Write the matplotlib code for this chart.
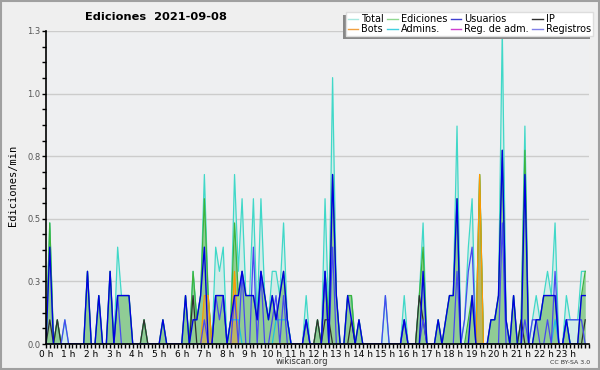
import numpy as np
import matplotlib
matplotlib.use('Agg')
import matplotlib.pyplot as plt
from matplotlib.lines import Line2D
from matplotlib.patches import Rectangle

# paso de 10 minutos -> ediciones/min
UNIT = 0.0967

# recuentos por intervalo de 10 min (144 intervalos)
total = [
    0, 5, 0, 1, 0, 1, 0, 0, 0, 0, 0, 3, 0, 0, 2, 0, 0, 3, 0, 4, 2, 2, 2, 0,
    0, 0, 1, 0, 0, 0, 0, 1, 0, 0, 0, 0, 0, 2, 0, 3, 1, 2, 7, 2, 0, 4, 3, 4,
    0, 1, 7, 3, 6, 2, 2, 6, 1, 6, 2, 1, 3, 3, 2, 5, 1, 0, 0, 0, 0, 2, 0, 0,
    1, 0, 6, 1, 11, 2, 0, 0, 2, 2, 0, 1, 0, 0, 0, 0, 0, 0, 2, 0, 0, 0, 0, 2,
    0, 0, 0, 2, 5, 0, 0, 0, 1, 0, 1, 2, 2, 9, 0, 1, 4, 6, 0, 7, 0, 0, 1, 1,
    2, 13, 1, 0, 2, 0, 1, 9, 0, 1, 2, 1, 2, 3, 2, 5, 0, 0, 2, 1, 1, 1, 3, 3,
]
ediciones = [
    0, 5, 0, 1, 0, 0, 0, 0, 0, 0, 0, 3, 0, 0, 2, 0, 0, 3, 0, 2, 2, 2, 2, 0,
    0, 0, 1, 0, 0, 0, 0, 1, 0, 0, 0, 0, 0, 2, 0, 3, 1, 2, 6, 2, 0, 2, 2, 2,
    0, 1, 5, 2, 3, 2, 2, 2, 1, 3, 2, 1, 2, 1, 2, 3, 1, 0, 0, 0, 0, 1, 0, 0,
    1, 0, 3, 1, 7, 2, 0, 0, 2, 2, 0, 1, 0, 0, 0, 0, 0, 0, 0, 0, 0, 0, 0, 1,
    0, 0, 0, 2, 4, 0, 0, 0, 1, 0, 1, 2, 2, 6, 0, 0, 1, 2, 0, 7, 0, 0, 1, 1,
    2, 8, 1, 0, 2, 0, 1, 8, 0, 0, 1, 1, 2, 2, 2, 2, 0, 0, 1, 0, 0, 0, 2, 3,
]
usuarios = [
    0, 4, 0, 0, 0, 0, 0, 0, 0, 0, 0, 3, 0, 0, 2, 0, 0, 3, 0, 2, 2, 2, 2, 0,
    0, 0, 0, 0, 0, 0, 0, 1, 0, 0, 0, 0, 0, 2, 0, 1, 1, 2, 4, 0, 0, 2, 2, 2,
    0, 1, 2, 2, 3, 2, 2, 2, 1, 3, 2, 1, 2, 1, 2, 3, 1, 0, 0, 0, 0, 1, 0, 0,
    0, 0, 3, 0, 7, 2, 0, 0, 2, 1, 0, 1, 0, 0, 0, 0, 0, 0, 0, 0, 0, 0, 0, 1,
    0, 0, 0, 0, 3, 0, 0, 0, 1, 0, 1, 2, 2, 6, 0, 0, 0, 2, 0, 0, 0, 0, 1, 1,
    2, 8, 1, 0, 2, 0, 0, 7, 0, 0, 1, 1, 2, 2, 2, 2, 0, 0, 1, 0, 0, 0, 2, 2,
]
ip = [
    0, 1, 0, 1, 0, 0, 0, 0, 0, 0, 0, 0, 0, 0, 0, 0, 0, 0, 0, 0, 0, 0, 0, 0,
    0, 0, 1, 0, 0, 0, 0, 0, 0, 0, 0, 0, 0, 0, 0, 2, 0, 0, 0, 0, 0, 0, 0, 0,
    0, 0, 0, 0, 0, 0, 0, 0, 0, 0, 0, 0, 0, 0, 0, 0, 0, 0, 0, 0, 0, 0, 0, 0,
    1, 0, 1, 1, 0, 0, 0, 0, 0, 1, 0, 0, 0, 0, 0, 0, 0, 0, 0, 0, 0, 0, 0, 0,
    0, 0, 0, 2, 1, 0, 0, 0, 0, 0, 0, 0, 0, 0, 0, 0, 0, 0, 0, 0, 0, 0, 0, 0,
    0, 0, 0, 0, 0, 0, 1, 0, 0, 0, 0, 0, 0, 0, 0, 0, 0, 0, 0, 0, 0, 0, 0, 1,
]
bots = [
    0, 0, 0, 0, 0, 0, 0, 0, 0, 0, 0, 0, 0, 0, 0, 0, 0, 0, 0, 0, 0, 0, 0, 0,
    0, 0, 0, 0, 0, 0, 0, 0, 0, 0, 0, 0, 0, 0, 0, 0, 0, 0, 2, 2, 0, 0, 0, 0,
    0, 0, 3, 0, 0, 0, 0, 0, 0, 0, 0, 0, 0, 0, 0, 0, 0, 0, 0, 0, 0, 0, 0, 0,
    0, 0, 0, 0, 0, 0, 0, 0, 0, 0, 0, 0, 0, 0, 0, 0, 0, 0, 0, 0, 0, 0, 0, 0,
    0, 0, 0, 0, 0, 0, 0, 0, 0, 0, 0, 0, 0, 0, 0, 0, 0, 0, 0, 7, 0, 0, 0, 0,
    0, 0, 0, 0, 0, 0, 0, 0, 0, 0, 0, 0, 0, 0, 0, 0, 0, 0, 0, 0, 0, 0, 0, 0,
]
admins = [
    0, 0, 0, 0, 0, 0, 0, 0, 0, 0, 0, 0, 0, 0, 0, 0, 0, 0, 0, 0, 0, 0, 0, 0,
    0, 0, 0, 0, 0, 0, 0, 0, 0, 0, 0, 0, 0, 0, 0, 0, 0, 0, 0, 0, 0, 0, 0, 0,
    0, 1, 1, 1, 0, 0, 0, 0, 0, 0, 0, 0, 0, 1, 1, 1, 1, 0, 0, 0, 0, 0, 0, 0,
    0, 0, 0, 0, 0, 0, 0, 0, 0, 0, 0, 0, 0, 0, 0, 0, 0, 0, 0, 0, 0, 0, 0, 0,
    0, 0, 0, 0, 0, 0, 0, 0, 0, 0, 0, 0, 0, 0, 0, 0, 0, 0, 0, 0, 0, 0, 0, 0,
    0, 0, 0, 0, 0, 0, 0, 0, 0, 0, 0, 0, 0, 0, 0, 1, 0, 0, 1, 0, 0, 0, 0, 0,
]
reg_adm = [0] * 144
registros = [
    0, 0, 0, 0, 0, 1, 0, 0, 0, 0, 0, 0, 0, 0, 0, 0, 0, 0, 0, 2, 0, 0, 0, 0,
    0, 0, 0, 0, 0, 0, 0, 0, 0, 0, 0, 0, 0, 0, 0, 0, 0, 0, 1, 0, 0, 2, 1, 2,
    0, 0, 2, 0, 3, 0, 0, 4, 0, 3, 0, 0, 1, 2, 0, 2, 0, 0, 0, 0, 0, 1, 0, 0,
    0, 0, 3, 0, 4, 0, 0, 0, 0, 0, 0, 0, 0, 0, 0, 0, 0, 0, 2, 0, 0, 0, 0, 1,
    0, 0, 0, 0, 1, 0, 0, 0, 0, 0, 0, 0, 0, 3, 0, 1, 3, 4, 0, 0, 0, 0, 0, 0,
    0, 5, 0, 0, 0, 0, 0, 1, 0, 1, 1, 0, 0, 1, 0, 3, 0, 0, 1, 1, 1, 1, 1, 0,
]

hour_labels = ['%d h' % h for h in range(24)]
y_ticks = [0, 0.25, 0.5, 0.75, 1.0, 1.25]
y_labels = ['0.0', '0.3', '0.5', '0.8', '1.0', '1.3']

t = np.arange(144) / 6.0

def rate(v):
    return np.array(v) * UNIT

fig = plt.figure(figsize=(6, 3.7), dpi=100, facecolor='#efefef')
ax = fig.add_axes([46 / 600, 1 - 344 / 370, 543 / 600, 313 / 370])
ax.set_facecolor('#eeeff1')

# rellenos
ax.fill_between(t, rate(total), color='#c8ece6', alpha=0.7, lw=0)
ax.fill_between(t, rate(ediciones), color='#80c480', alpha=0.8, lw=0)
ax.fill_between(t, rate(bots), color='#e8a030', alpha=0.5, lw=0)

# líneas
ax.plot(t, rate(total), color='#40d8c8', lw=0.9)
ax.plot(t, rate(ediciones), color='#3cb43c', lw=0.9)
ax.plot(t, rate(ip), color='#303030', lw=0.9)
ax.plot(t, rate(bots), color='#ff9900', lw=0.9)
ax.plot(t, rate(admins), color='#20c0e0', lw=0.9)
ax.plot(t, rate(reg_adm), color='#d040d0', lw=0.9)
ax.plot(t, rate(registros), color='#4848f0', lw=0.9)
ax.plot(t, rate(usuarios), color='#0000e0', lw=1.0)

ax.set_xlim(0, 24)
ax.set_ylim(0, 1.25)

ax.set_yticks(y_ticks)
ax.set_yticklabels(y_labels, fontsize=6, color='#555555')
ax.set_yticks(np.arange(0, 1.26, 0.0625), minor=True)
ax.set_xticks(range(24))
ax.set_xticklabels(hour_labels, fontsize=6.5)
ax.set_xticks(np.arange(0, 24.01, 1 / 6), minor=True)
ax.tick_params(axis='both', which='both', direction='out', length=3, width=1, pad=1)

ax.yaxis.grid(True, color='#cccccc', lw=1)
ax.set_axisbelow(True)
for s in ['top', 'right']:
    ax.spines[s].set_visible(False)
ax.spines['left'].set_linewidth(1.2)
ax.spines['bottom'].set_linewidth(1.2)

fig.text(13 / 600, 1 - 185 / 370, 'Ediciones/min', fontsize=7.5, family='DejaVu Sans Mono',
         rotation=90, va='center', ha='center')

fig.text(85 / 600, 1 - 17 / 370, 'Ediciones  2021-09-08', fontsize=8.2,
         fontweight='bold', va='center', ha='left')
fig.text(302 / 600, 1 - 362 / 370, 'wikiscan.org', fontsize=6,
         va='center', ha='center', color='#333333')
fig.text(590 / 600, 1 - 362 / 370, 'CC BY-SA 3.0', fontsize=4.5,
         va='center', ha='right', color='#333333')

# leyenda
handles = [
    Line2D([], [], color='#a8e8e0', lw=1), Line2D([], [], color='#f0a040', lw=1),
    Line2D([], [], color='#90d890', lw=1), Line2D([], [], color='#40d0e0', lw=1),
    Line2D([], [], color='#4040d0', lw=1), Line2D([], [], color='#d040d0', lw=1),
    Line2D([], [], color='#303030', lw=1), Line2D([], [], color='#8080e8', lw=1),
]
labels = ['Total', 'Bots', 'Ediciones', 'Admins.', 'Usuarios', 'Reg. de adm.', 'IP', 'Registros']
leg = fig.legend(handles, labels, ncol=4, loc='upper right',
                 bbox_to_anchor=(593 / 600, 1 - 12 / 370), fontsize=7,
                 handlelength=1.1, handletextpad=0.3, columnspacing=0.35,
                 labelspacing=0.0, borderpad=0.2, fancybox=False,
                 framealpha=1, facecolor='white', edgecolor='#dddddd',
                 borderaxespad=0)
fig.canvas.draw()
bb = leg.get_window_extent()
fig.patches.append(Rectangle((bb.x0 - 3, bb.y0 - 3), bb.width, bb.height,
                             transform=None, facecolor='#888888', lw=0, zorder=4))

# marco
fig.patches.append(Rectangle((0.002, 0.003), 0.996, 0.994, transform=fig.transFigure,
                             fill=False, edgecolor='#a0a0a0', lw=1.5, zorder=10))

fig.savefig('out.png', dpi=100, facecolor=fig.get_facecolor())
